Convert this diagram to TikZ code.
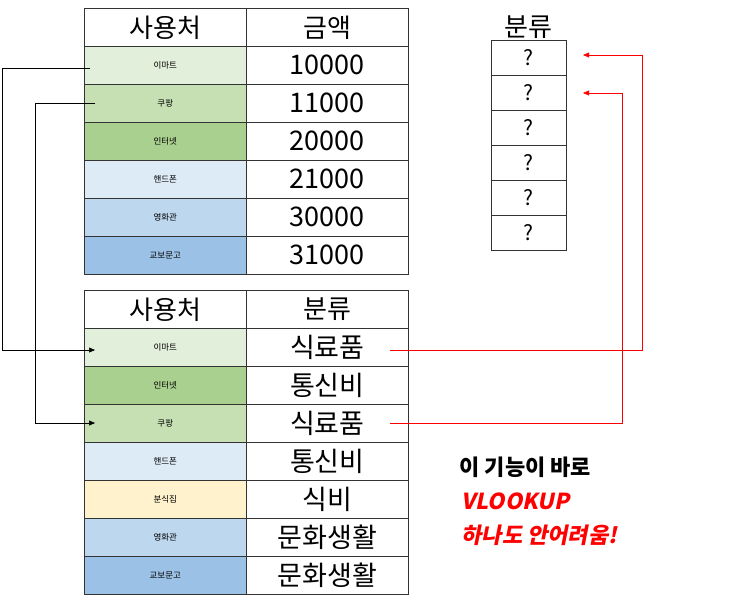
\documentclass[tikz,border=0pt]{standalone}
\usepackage{fontspec}
\setmainfont{Noto Sans CJK KR}
\usetikzlibrary{arrows.meta}
\definecolor{gA}{HTML}{E2EFDA}\definecolor{gB}{HTML}{C6E0B4}\definecolor{gC}{HTML}{A9D08E}
\definecolor{bA}{HTML}{DDEBF7}\definecolor{bB}{HTML}{BDD7EE}\definecolor{bC}{HTML}{9BC2E6}
\definecolor{yA}{HTML}{FFF2CC}\definecolor{rd}{HTML}{FF0000}
\begin{document}
\begin{tikzpicture}[x=1pt,y=-1pt,
  cell/.style={draw=black!80,line width=0.6pt,minimum height=38pt,inner sep=0pt,anchor=north west},
  nm/.style={cell,minimum width=162pt,font=\fontsize{8.5}{9}\selectfont},
  val/.style={cell,minimum width=162pt,font=\fontsize{27}{28}\selectfont},
  hd/.style={cell,minimum width=162pt,font=\fontsize{26}{27}\selectfont},
  q/.style={draw=black!80,line width=0.6pt,minimum width=75pt,minimum height=35pt,inner sep=0pt,anchor=north west,font=\fontsize{21}{22}\selectfont},
  blk/.style={-{Triangle[length=6pt,width=5pt]},line width=0.5pt},
  red/.style={rd,-{Triangle[length=6pt,width=5pt]},line width=0.5pt}]
\useasboundingbox (0,0) rectangle (743,611);
\node[hd] (th1) at (84,8) {사용처};
\node[hd] (th2) at (246,8) {금액};
\foreach \n/\c/\v [count=\i] in {이마트/gA/10000,쿠팡/gB/11000,인터넷/gC/20000,핸드폰/bA/21000,영화관/bB/30000,교보문고/bC/31000}{
  \node[nm,fill=\c] (tn\i) at (84,{8+38*\i}) {\n};
  \node[val] (tv\i) at (246,{8+38*\i}) {\v};
}
\node[hd] (bh1) at (84,290) {사용처};
\node[hd] (bh2) at (246,290) {분류};
\foreach \n/\c/\v [count=\i] in {이마트/gA/식료품,인터넷/gC/통신비,쿠팡/gB/식료품,핸드폰/bA/통신비,분식집/yA/식비,영화관/bB/문화생활,교보문고/bC/문화생활}{
  \node[nm,fill=\c] (bn\i) at (84,{290+38*\i}) {\n};
  \node[val] (bv\i) at (246,{290+38*\i}) {\v};
}
\node[font=\fontsize{26}{27}\selectfont,anchor=south] (qh) at (528.5,42) {분류};
\foreach \i in {1,...,6}{ \node[q] (q\i) at (491,{40+35*(\i-1)}) {?}; }
\coordinate (s1) at (90,68); \coordinate (s2) at (95,103);
\draw[blk] (s1) -- (2,68) -- (2,350) -- (95,350);
\draw[blk] (s2) -- (35,103) -- (35,423) -- (95,423);
\coordinate (r1) at (390,350); \coordinate (r2) at (390,423);
\draw[red] (r1) -- (642,350) -- (642,55) -- (583,55);
\draw[red] (r2) -- (622,423) -- (622,93) -- (583,93);
\node[anchor=west,font=\bfseries\fontsize{22}{23}\selectfont] (t1) at (456,467) {이 기능이 바로};
\node[anchor=west,text=rd,font=\bfseries\fontsize{22}{23}\selectfont] (t2) at (458,501) {\addfontfeature{FakeSlant=0.2}VLOOKUP};
\node[anchor=west,text=rd,font=\bfseries\fontsize{22}{23}\selectfont] (t3) at (458,535) {\addfontfeature{FakeSlant=0.2}하나도 안어려움!};
\end{tikzpicture}
\end{document}
